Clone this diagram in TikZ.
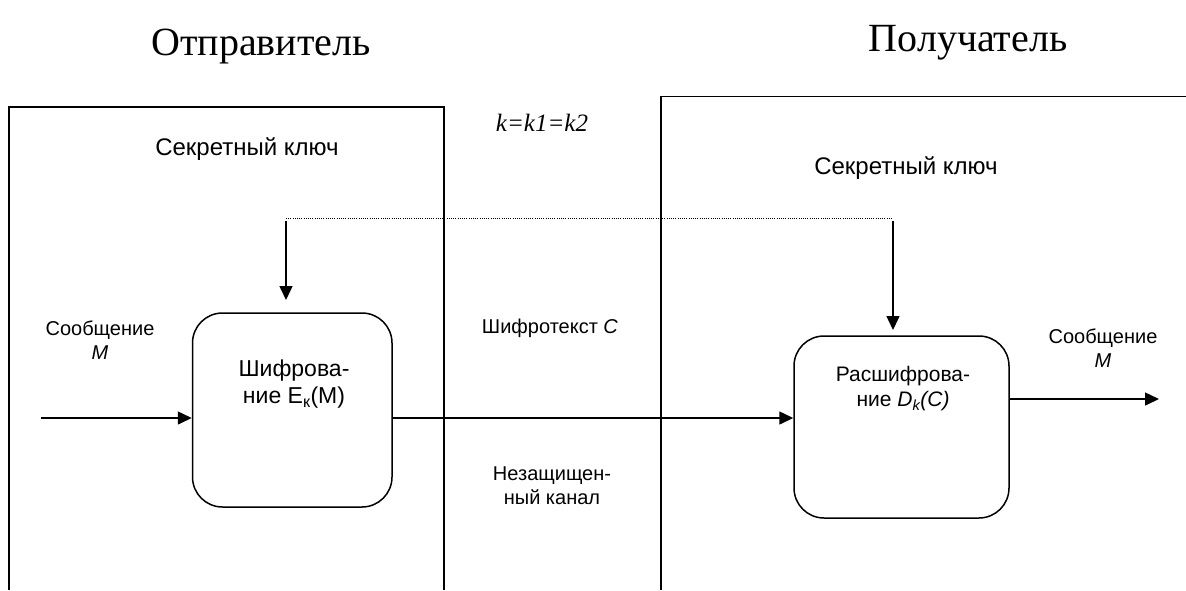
\documentclass[tikz,border=0pt]{standalone}
\usepackage{fontspec}
\setmainfont{Liberation Serif}
\newfontfamily\arialfont{Liberation Sans}
\usetikzlibrary{arrows.meta}
\tikzset{
  line/.style={line width=1.5pt},
  arr/.style={line width=1.5pt,-{Triangle[length=14pt,width=13pt]}},
  keyline/.style={line width=1pt,dash pattern=on 1pt off 1.2pt},
  procbox/.style={draw,line width=1.5pt,rectangle,rounded corners=30pt,inner sep=0pt},
  title/.style={font=\fontsize{40}{44}\selectfont,inner sep=0pt},
  sans/.style={font=\arialfont\fontsize{20}{24}\selectfont,inner sep=0pt,align=center},
  keylabel/.style={font=\arialfont\fontsize{24}{28}\selectfont,inner sep=0pt},
}
\begin{document}
\begin{tikzpicture}[x=1pt,y=-1pt]
\useasboundingbox (0,0) rectangle (1186,590);
% titles
\node[title,anchor=base] (sender) at (261,55) {Отправитель};
\node[title,anchor=base] (receiver) at (968,51) {Получатель};
\node[font=\fontsize{25}{28}\selectfont\itshape,inner sep=0pt,anchor=base] (keq) at (542,131) {k=k1=k2};
% outer frames (open at bottom)
\draw[line] (9,590) -- (9,107) -- (444,107) -- (444,590);
\draw[line] (661,590) -- (661,96.5) -- (1186,96.5);
% key labels
\node[keylabel] (kl) at (247,149) {Секретный ключ};
\node[keylabel] (kr) at (906,168) {Секретный ключ};
% process boxes
\node[procbox,minimum width=199.5pt,minimum height=194pt] (enc) at (292.25,410) {};
\node[procbox,minimum width=215pt,minimum height=182pt] (dec) at (901.5,427) {};
\node[font=\arialfont\fontsize{23}{27}\selectfont,inner sep=0pt,align=center] (enctext) at (294,384) {Шифрова-\\ние E\textsubscript{к}(M)};
\node[font=\arialfont\fontsize{21}{25}\selectfont,inner sep=0pt,align=center] (dectext) at (903,389) {Расшифрова-\\ние \textit{D\textsubscript{k}(C)}};
% key path
\coordinate (ka) at (286,218);
\coordinate (kb) at (893,218);
\coordinate (kin) at (286,300);
\coordinate (kout) at (893,330);
\draw[keyline] (ka) -- (kb);
\draw[arr] ([yshift=-3pt]ka) -- (kin);
\draw[arr] ([yshift=-3pt]kb) -- (kout);
% message flow
\coordinate (in) at (41,418);
\coordinate (out) at (1159,399);
\draw[arr] (in) -- (in -| enc.west);
\draw[arr] (enc.east |- in) -- (dec.west |- in);
\draw[arr] (dec.east |- out) -- (out);
% labels
\node[sans] (msgin) at (100,340) {Сообщение\\\textit{M}};
\node[sans] (msgout) at (1103,348) {Сообщение\\\textit{M}};
\node[sans] (ctext) at (550,328) {Шифротекст \textit{C}};
\node[sans] (chan) at (552,486) {Незащищен-\\ный канал};
\end{tikzpicture}
\end{document}
